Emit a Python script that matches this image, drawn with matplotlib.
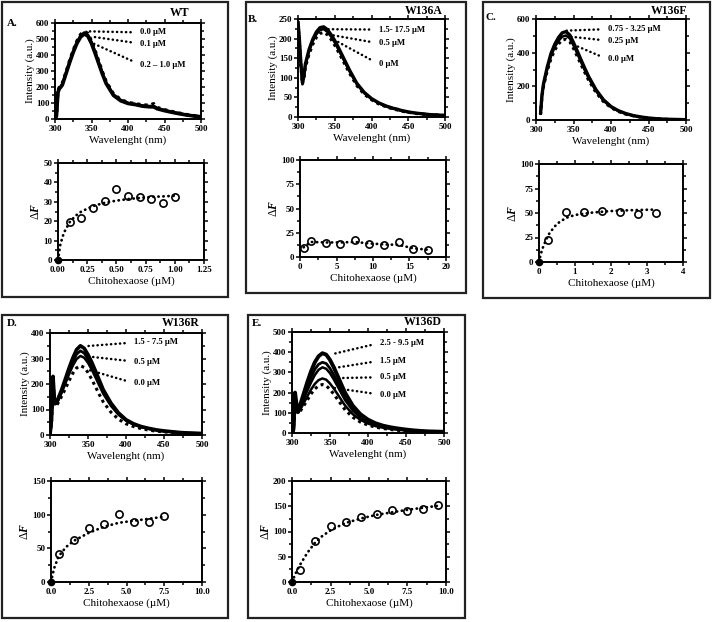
import matplotlib
matplotlib.use("Agg")
import numpy as np
import matplotlib.pyplot as plt
from matplotlib.patches import Rectangle
from matplotlib.ticker import MultipleLocator, FormatStrFormatter

plt.rcParams['font.family'] = ['Liberation Serif', 'DejaVu Serif']
plt.rcParams['font.weight'] = 'bold'
plt.rcParams['mathtext.fontset'] = 'custom'
plt.rcParams['mathtext.rm'] = 'Liberation Serif:bold'
plt.rcParams['mathtext.it'] = 'Liberation Serif:italic:bold'

W, H = 713, 622
nan = np.nan

# emission wavelengths (nm), shared by all spectra
WL = [300, 302, 304, 306, 308, 310, 315, 320, 325, 330, 335, 340, 345, 350, 355, 360,
      365, 370, 380, 390, 400, 410, 420, 430, 435, 440, 450, 460, 470, 480, 490, 500]

# A. WT spectra
wt_00 = [0, 25, 175, 200, 210, 222, 292, 365, 430, 487, 528, 548, 535, 488, 426, 360,
         294, 235, 158, 122, 103, 96, 88, 86, 96, 72, 58, 47, 37, 28, 21, 16]
wt_01 = [0, 20, 170, 195, 205, 217, 287, 358, 424, 480, 520, 540, 526, 480, 418, 352,
         287, 228, 153, 118, 100, 93, 84, 80, 82, 68, 55, 45, 35, 26, 20, 15]
wt_02 = [0, 18, 165, 190, 200, 212, 282, 352, 417, 472, 512, 532, 518, 472, 410, 345,
         280, 222, 148, 114, 97, 90, 80, 76, 76, 64, 52, 42, 33, 25, 19, 14]

# B. W136A spectra
a_17 = [245, 195, 135, 88, 105, 135, 172, 198, 217, 228, 230, 223, 210, 195, 177, 158,
        139, 120, 86, 63, 47, 36, 28, 22, 20, 17, 13, 10, 8, 6, 5, 4]
a_05 = [242, 192, 132, 86, 102, 131, 167, 193, 211, 222, 224, 217, 205, 190, 172, 154,
        135, 117, 84, 61, 46, 35, 27, 21, 19, 16, 12, 10, 8, 6, 5, 4]
a_00 = [238, 188, 128, 84, 98, 126, 160, 185, 203, 213, 216, 210, 198, 183, 166, 148,
        130, 112, 80, 58, 44, 33, 26, 20, 18, 15, 12, 9, 7, 6, 5, 4]

# C. W136F spectra
f_325 = [nan, nan, nan, 35, 150, 215, 315, 395, 450, 490, 518, 525, 505, 460, 410, 358,
         308, 260, 180, 120, 80, 55, 38, 26, 22, 18, 12, 8, 5, 4, 3, 2]
f_025 = [nan, nan, nan, 33, 145, 208, 303, 380, 433, 470, 495, 502, 485, 443, 395, 345,
         296, 250, 172, 115, 77, 53, 36, 25, 21, 17, 11, 7, 5, 4, 3, 2]
f_00 = [nan, nan, nan, 30, 140, 200, 292, 365, 415, 452, 475, 480, 465, 425, 378, 330,
        283, 238, 163, 109, 73, 50, 34, 24, 20, 16, 10, 7, 5, 3, 2, 2]

# D. W136R spectra
r_75 = [0, 60, 230, 125, 128, 138, 175, 218, 262, 302, 335, 350, 340, 315, 285, 250,
        214, 178, 126, 87, 60, 44, 33, 26, 23, 20, 16, 13, 10, 8, 7, 6]
r_15 = [0, 58, 225, 123, 125, 134, 168, 208, 250, 287, 317, 330, 321, 298, 270, 237,
        203, 169, 120, 83, 58, 42, 32, 25, 22, 19, 15, 12, 10, 8, 7, 6]
r_05 = [0, 55, 220, 120, 122, 130, 163, 200, 238, 272, 298, 310, 303, 283, 256, 225,
        193, 162, 115, 80, 56, 41, 31, 24, 21, 19, 15, 12, 9, 8, 6, 5]
r_00 = [0, 50, 210, 115, 117, 122, 150, 180, 212, 242, 263, 272, 265, 245, 218, 188,
        158, 130, 90, 62, 44, 33, 25, 19, 17, 15, 12, 10, 8, 6, 5, 4]

# E. W136D spectra
d_95 = [0, 20, 200, 140, 115, 130, 190, 250, 305, 350, 380, 395, 388, 362, 325, 283,
        240, 198, 135, 93, 66, 48, 36, 28, 25, 22, 17, 13, 10, 8, 7, 6]
d_25 = [0, 19, 192, 134, 110, 124, 175, 228, 275, 315, 340, 350, 344, 320, 287, 250,
        213, 176, 120, 84, 60, 44, 33, 26, 23, 20, 15, 12, 9, 7, 6, 5]
d_15 = [0, 17, 185, 128, 105, 118, 163, 208, 250, 287, 313, 325, 318, 296, 265, 231,
        196, 162, 111, 77, 55, 40, 30, 24, 21, 19, 14, 11, 9, 7, 6, 5]
d_05 = [0, 15, 180, 125, 100, 110, 145, 180, 215, 243, 262, 270, 264, 245, 220, 192,
        163, 135, 93, 65, 47, 34, 26, 20, 18, 16, 12, 10, 8, 6, 5, 4]
d_00 = [0, 12, 170, 120, 95, 103, 132, 162, 193, 218, 234, 240, 234, 216, 192, 166,
        140, 114, 78, 54, 39, 29, 22, 17, 15, 13, 10, 8, 6, 5, 4, 3]

# titrations: chitohexaose (uM) vs delta F, plus the fitted curve
wt_conc = [0, 0.1, 0.2, 0.3, 0.4, 0.5, 0.6, 0.7, 0.8, 0.9, 1.0]
wt_dF = [0, 19.8, 21.9, 26.7, 30.5, 36.7, 32.8, 32.4, 31.6, 29.3, 32.4]
wt_fit_x = [0, 0.02, 0.05, 0.1, 0.15, 0.2, 0.3, 0.4, 0.5, 0.6, 0.7, 0.8, 0.9, 1.0]
wt_fit_y = [0, 8, 14, 19.5, 22.8, 25, 27.8, 29.5, 30.6, 31.4, 32, 32.5, 32.8, 33.1]

a_conc = [0.5, 1.5, 3.5, 5.5, 7.5, 9.5, 11.5, 13.5, 15.5, 17.5]
a_dF = [9.5, 16.1, 14.4, 13.4, 17.1, 13.7, 12.7, 15.1, 8.2, 7.5]
a_fit_x = [0.5, 1.5, 3.5, 5.5, 7.5, 9.5, 11.5, 13.5, 15.5, 17.5]
a_fit_y = [10, 15.5, 15, 15, 15.5, 14, 13, 12.5, 9, 7.5]

f_conc = [0, 0.25, 0.75, 1.25, 1.75, 2.25, 2.75, 3.25]
f_dF = [0, 22.3, 51.4, 51.4, 52.4, 51.4, 48.6, 49.7]
f_fit_x = [0, 0.05, 0.1, 0.2, 0.3, 0.5, 0.75, 1.0, 1.5, 2.0, 2.5, 3.0, 3.25]
f_fit_y = [0, 8, 14, 23, 30, 39, 45, 48, 50.5, 52, 52.8, 53.3, 53.5]

r_conc = [0, 0.5, 1.5, 2.5, 3.5, 4.5, 5.5, 6.5, 7.5]
r_dF = [0, 42, 62.9, 80.2, 86.6, 101.5, 89, 89, 98]
r_fit_x = [0, 0.2, 0.5, 1.0, 1.5, 2.5, 3.5, 4.5, 5.5, 6.5, 7.5]
r_fit_y = [0, 20, 38, 52, 61, 73, 82, 88, 91, 94, 97]

d_conc = [0, 0.5, 1.5, 2.5, 3.5, 4.5, 5.5, 6.5, 7.5, 8.5, 9.5]
d_dF = [0, 24.4, 81.2, 111, 119, 128.7, 134, 142, 140.6, 143.9, 151.8]
d_fit_x = [0, 0.25, 0.5, 1, 1.5, 2, 2.5, 3, 3.5, 4.5, 5.5, 6.5, 7.5, 8.5, 9.5]
d_fit_y = [0, 18, 33, 58, 78, 92, 102, 110, 117, 126, 133, 138, 143, 147, 151]

DOTS = (0, (1, 1.2))          # dotted spectra
ROUND_DOTS = (0, (0.1, 1.7))  # leaders and fits, drawn with round caps
TICK_FS, LABEL_FS, NOTE_FS = 6.5, 8, 6.2

fig = plt.figure(figsize=(W / 100, H / 100), dpi=100)


def rect(l, t, r, b):
    return [l / W, 1 - b / H, (r - l) / W, (b - t) / H]


def style_axes(ax):
    for s in ax.spines.values():
        s.set_linewidth(1.4)
    ax.tick_params(which='both', direction='out', top=True, right=True,
                   labelsize=TICK_FS, width=1.1, pad=1)
    ax.tick_params(which='major', length=3)
    ax.tick_params(which='minor', length=2)


def spectra(box, curves, ymax, ystep, notes):
    ax = fig.add_axes(rect(*box))
    for vals, ls, lw in curves:
        ax.plot(WL, vals, color='black', ls=ls, lw=lw, solid_capstyle='butt')
    ax.set_xlim(300, 500)
    ax.set_ylim(0, ymax)
    ax.xaxis.set_major_locator(MultipleLocator(50))
    ax.xaxis.set_minor_locator(MultipleLocator(25))
    ax.yaxis.set_major_locator(MultipleLocator(ystep))
    ax.yaxis.set_minor_locator(MultipleLocator(ystep / 2))
    style_axes(ax)
    ax.set_xlabel('Wavelenght (nm)', fontsize=LABEL_FS, labelpad=2)
    ax.set_ylabel('Intensity (a.u.)', fontsize=LABEL_FS, labelpad=1)
    for text, xy, xytext in notes:
        ax.annotate(text, xy=xy, xytext=xytext, fontsize=NOTE_FS, va='center', ha='left',
                    arrowprops=dict(arrowstyle='-', ls=ROUND_DOTS, lw=1.8, color='black',
                                    capstyle='round', relpos=(0, 0.5),
                                    shrinkA=5, shrinkB=0))
    return ax


def titration(box, conc, dF, fit_x, fit_y, xmax, xstep, xfmt, ymax, ystep):
    ax = fig.add_axes(rect(*box))
    ax.plot(fit_x, fit_y, color='black', ls=ROUND_DOTS, lw=2.0, dash_capstyle='round')
    conc = np.array(conc)
    dF = np.array(dF)
    zero = conc == 0
    ax.plot(conc[~zero], dF[~zero], 'o', mfc='none', mec='black', ms=5.2, mew=1.2)
    ax.plot(conc[zero], dF[zero], 'o', color='black', ms=4.5, clip_on=False)
    ax.set_xlim(0, xmax)
    ax.set_ylim(0, ymax)
    ax.xaxis.set_major_locator(MultipleLocator(xstep))
    ax.xaxis.set_minor_locator(MultipleLocator(xstep / 2))
    ax.xaxis.set_major_formatter(FormatStrFormatter(xfmt))
    ax.yaxis.set_major_locator(MultipleLocator(ystep))
    ax.yaxis.set_minor_locator(MultipleLocator(ystep / 2))
    style_axes(ax)
    ax.set_xlabel('Chitohexaose (\u00b5M)', fontsize=LABEL_FS, labelpad=2)
    ax.set_ylabel('\u0394$F$', fontsize=LABEL_FS + 0.5, labelpad=1)
    return ax


# panel frames
for l, t, r, b in [(2, 2, 228, 297), (246, 2, 466, 293), (483, 2, 710, 298),
                   (2, 315, 228, 618), (248, 315, 465, 618)]:
    fig.patches.append(Rectangle((l / W, 1 - b / H), (r - l) / W, (b - t) / H,
                                 transform=fig.transFigure, fill=False,
                                 lw=1.6, ec='#222222'))

# A. WT
spectra((55, 23, 201, 119),
        [(wt_02, '-', 2.6), (wt_01, '-', 2.0), (wt_00, DOTS, 2.4)],
        600, 100,
        [('0.0 \u00b5M', (344, 548), (417, 541)),
         ('0.1 \u00b5M', (350, 515), (417, 471)),
         ('0.2 \u2013 1.0 \u00b5M', (353, 471), (417, 340))])
titration((58, 163, 204, 260), wt_conc, wt_dF, wt_fit_x, wt_fit_y,
          1.25, 0.25, '%.2f', 50, 10)

# B. W136A
spectra((298, 19, 445, 117),
        [(a_17, '-', 2.4), (a_05, '-', 1.8), (a_00, DOTS, 2.2)],
        250, 50,
        [('1.5- 17.5 \u00b5M', (341, 224), (410, 223)),
         ('0.5 \u00b5M', (346, 209), (410, 188)),
         ('0 \u00b5M', (350, 196), (410, 135))])
titration((300, 160, 446, 257), a_conc, a_dF, a_fit_x, a_fit_y,
          20, 5, '%d', 100, 25)

# C. W136F
spectra((536, 19, 686, 120),
        [(f_325, '-', 2.4), (f_025, '-', 1.8), (f_00, DOTS, 2.2)],
        600, 200,
        [('0.75 - 3.25 \u00b5M', (341, 531), (396, 540)),
         ('0.25 \u00b5M', (346, 495), (396, 471)),
         ('0.0 \u00b5M', (346, 455), (396, 360))])
titration((539, 164, 683, 262), f_conc, f_dF, f_fit_x, f_fit_y,
          4, 1, '%d', 100, 25)

# D. W136R
spectra((50, 333, 202, 435),
        [(r_75, '-', 2.6), (r_15, '-', 2.0), (r_05, '-', 1.8), (r_00, DOTS, 2.2)],
        400, 100,
        [('1.5 - 7.5 \u00b5M', (346, 348), (411, 363)),
         ('0.5 \u00b5M', (350, 308), (411, 288)),
         ('0.0 \u00b5M', (350, 256), (411, 203))])
titration((51, 481, 202, 582), r_conc, r_dF, r_fit_x, r_fit_y,
          10, 2.5, '%.1f', 150, 50)

# E. W136D
spectra((292, 332, 444, 433),
        [(d_95, '-', 2.8), (d_25, '-', 2.0), (d_15, '-', 1.8), (d_05, '-', 1.8),
         (d_00, DOTS, 2.2)],
        500, 100,
        [('2.5 - 9.5 \u00b5M', (356, 393), (416, 446)),
         ('1.5 \u00b5M', (356, 322), (416, 358)),
         ('0.5 \u00b5M', (361, 272), (416, 276)),
         ('0.0 \u00b5M', (356, 223), (416, 190))])
titration((292, 481, 446, 582), d_conc, d_dF, d_fit_x, d_fit_y,
          10, 2.5, '%.1f', 200, 50)

# panel letters and names
for x, y, s in [(7, 24, 'A.'), (248, 20, 'B.'), (485, 18, 'C.'), (7, 323, 'D.'), (252, 323, 'E.')]:
    fig.text(x / W, 1 - y / H, s, fontsize=8, ha='left', va='center')
for x, y, s in [(189, 13, 'WT'), (443, 11, 'W136A'), (687, 11, 'W136F'),
                (200, 323, 'W136R'), (442, 322, 'W136D')]:
    fig.text(x / W, 1 - y / H, s, fontsize=8.5, ha='right', va='center')

fig.savefig('out.png', dpi=100)
